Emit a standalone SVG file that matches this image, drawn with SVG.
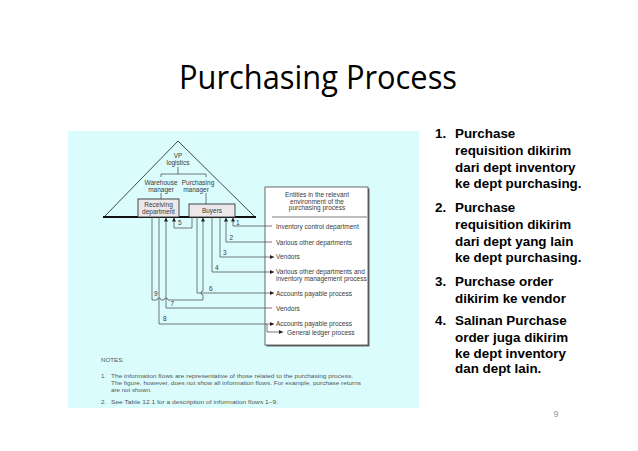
<svg xmlns="http://www.w3.org/2000/svg" width="638" height="451" viewBox="0 0 638 451">
<defs>
<style>
.t{font-family:"Liberation Sans",Arial,sans-serif;font-size:6.5px;fill:#3a3a3a}
.tc{text-anchor:middle}
.n{font-family:"Liberation Sans",Arial,sans-serif;font-size:6.2px;fill:#555}
.l{font-family:"Liberation Sans",Arial,sans-serif;font-size:13.4px;font-weight:bold;fill:#000}
.ln{fill:none;stroke:#555;stroke-width:0.8}
.bx{fill:#ebe7eb;stroke:#333;stroke-width:0.9}
</style>
<marker id="ar" viewBox="0 0 6 6" refX="6" refY="3" markerWidth="4" markerHeight="4" markerUnits="userSpaceOnUse" orient="auto">
<path d="M0,0 L6,3 L0,6 Z" fill="#222"/>
</marker>
</defs>
<rect width="638" height="451" fill="#fff"/>
<text x="179" y="89" font-family="'Open Sans','Noto Sans',sans-serif" font-size="32" fill="#000" textLength="278" lengthAdjust="spacingAndGlyphs">Purchasing Process</text>
<rect id="panel" x="68" y="131" width="351" height="277" fill="#dafcfd"/>

<g id="org">
<polygon points="178,141 104,217 255,217" fill="#dafcfd" stroke="#333" stroke-width="0.9"/>
<line x1="103" y1="217" x2="256" y2="217" stroke="#111" stroke-width="2"/>
<text class="t tc" x="178" y="157.5">VP</text>
<text class="t tc" x="178" y="165">logistics</text>
<path class="ln" d="M178,167 V174 M161,177 V174 H206 V177 M161,193 V199 M206,193 V204"/>
<text class="t tc" x="161" y="184.5">Warehouse</text>
<text class="t tc" x="161" y="192">manager</text>
<text class="t tc" x="198" y="184.5">Purchasing</text>
<text class="t tc" x="196" y="192">manager</text>
</g>
<g id="receiving">
<rect class="bx" x="138" y="199" width="41" height="18"/>
<text class="t tc" x="158.5" y="206.5">Receiving</text>
<text class="t tc" x="158.5" y="214">department</text>
</g>
<g id="buyers">
<rect class="bx" x="189" y="204" width="46" height="13"/>
<text class="t tc" x="212" y="213">Buyers</text>
</g>

<g id="entities">
<rect x="266.5" y="188.5" width="103" height="158" fill="#666"/>
<rect x="265" y="187" width="103" height="158" fill="#fff" stroke="#444" stroke-width="0.8"/>
<text class="t tc" x="317" y="197">Entities in the relevant</text>
<text class="t tc" x="317" y="203.5">environment of the</text>
<text class="t tc" x="317" y="210">purchasing process</text>
<line x1="272" y1="217" x2="367" y2="217" stroke="#555" stroke-width="0.8"/>
<text class="t" x="276" y="228.5">Inventory control department</text>
<text class="t" x="276" y="244.5">Various other departments</text>
<text class="t" x="276" y="259">Vendors</text>
<text class="t" x="276" y="274">Various other departments and</text>
<text class="t" x="276" y="281">inventory management process</text>
<text class="t" x="276" y="296">Accounts payable process</text>
<text class="t" x="276" y="310.5">Vendors</text>
<text class="t" x="276" y="326">Accounts payable process</text>
<text class="t" x="287" y="334.5">General ledger process</text>
</g>

<g id="connectors">
<path class="ln" d="M272,226 H233 V217.5" marker-end="url(#ar)"/>
<path class="ln" d="M272,242 H226 V217.5" marker-end="url(#ar)"/>
<path class="ln" d="M220,217 V257 H274" marker-end="url(#ar)"/>
<path class="ln" d="M212,217 V272 H274" marker-end="url(#ar)"/>
<path class="ln" d="M192,217 V228 H174 V217.5" marker-end="url(#ar)"/>
<path class="ln" d="M197,217 V293 H274" marker-end="url(#ar)"/>
<path class="ln" d="M272,308 H166 V217.5" marker-end="url(#ar)"/>
<path class="ln" d="M159,217 V324 H274" marker-end="url(#ar)"/>
<path class="ln" d="M152,217 V300 H157 A2,2 0 0 1 161,300 H164 A2,2 0 0 1 168,300 H203 V295 A2,2 0 0 1 203,291 V217.5" marker-end="url(#ar)"/>
<path class="ln" d="M267,324 V332 H283" marker-end="url(#ar)"/>
<text class="t" x="236" y="224.5">1</text>
<text class="t" x="229.5" y="240">2</text>
<text class="t" x="223" y="255">3</text>
<text class="t" x="215" y="270">4</text>
<text class="t" x="178" y="225">5</text>
<text class="t" x="209" y="291">6</text>
<text class="t" x="170.5" y="306">7</text>
<text class="t" x="163" y="320.5">8</text>
<text class="t" x="154" y="296">9</text>
</g>

<g id="notes">
<text class="n" x="101" y="362">NOTES:</text>
<text class="n" x="101" y="378">1.</text>
<text class="n" x="111" y="378" textLength="242" lengthAdjust="spacingAndGlyphs">The information flows are representative of those related to the purchasing process.</text>
<text class="n" x="111" y="385" textLength="250" lengthAdjust="spacingAndGlyphs">The figure, however, does not show all information flows.  For example, purchase returns</text>
<text class="n" x="111" y="392">are not shown.</text>
<text class="n" x="101" y="404">2.</text>
<text class="n" x="111" y="404" textLength="167" lengthAdjust="spacingAndGlyphs">See Table 12.1 for a description of information flows 1–9.</text>
</g>

<g id="list">
<text class="l" x="435" y="138">1.</text>
<text class="l" x="455" y="138">Purchase</text>
<text class="l" x="455" y="155">requisition dikirim</text>
<text class="l" x="455" y="171.5">dari dept inventory</text>
<text class="l" x="455" y="188">ke dept purchasing.</text>
<text class="l" x="435" y="212">2.</text>
<text class="l" x="455" y="212">Purchase</text>
<text class="l" x="455" y="229">requisition dikirim</text>
<text class="l" x="455" y="245.5">dari dept yang lain</text>
<text class="l" x="455" y="262">ke dept purchasing.</text>
<text class="l" x="435" y="286">3.</text>
<text class="l" x="455" y="286">Purchase order</text>
<text class="l" x="455" y="303">dikirim ke vendor</text>
<text class="l" x="435" y="325">4.</text>
<text class="l" x="455" y="325">Salinan Purchase</text>
<text class="l" x="455" y="342">order juga dikirim</text>
<text class="l" x="455" y="357.5">ke  dept inventory</text>
<text class="l" x="455" y="373">dan dept lain.</text>
</g>
<text x="556" y="417" font-family="'Liberation Sans',Arial,sans-serif" font-size="9" fill="#999" text-anchor="middle">9</text>
</svg>
